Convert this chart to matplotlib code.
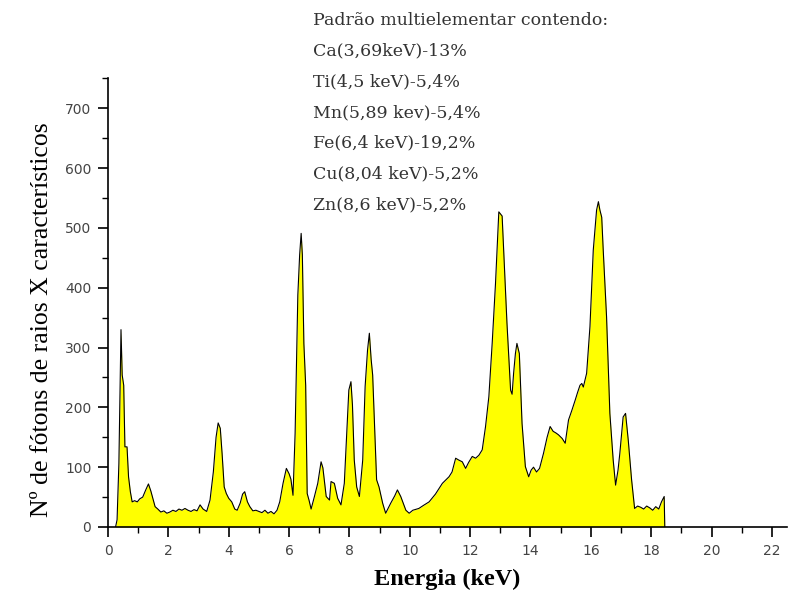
#!/usr/bin/env python3
"""XRF spectrum of a multielement standard (Ca, Ti, Mn, Fe, Cu, Zn)."""

import matplotlib
matplotlib.use("Agg")
import matplotlib.pyplot as plt
from matplotlib.ticker import MultipleLocator

# Spectrum: energy (keV) and counts
energy = [
    0.25, 0.30, 0.36, 0.43, 0.47, 0.52, 0.56, 0.63, 0.68, 0.74,
    0.80, 0.88, 0.97, 1.05, 1.15, 1.25, 1.34, 1.42, 1.50, 1.56,
    1.65, 1.75, 1.85, 1.95, 2.05, 2.15, 2.25, 2.35, 2.45, 2.55,
    2.65, 2.75, 2.85, 2.95, 3.05, 3.15, 3.27, 3.38, 3.49, 3.58,
    3.65, 3.72, 3.78, 3.85, 3.92, 4.00, 4.10, 4.20, 4.28, 4.38,
    4.46, 4.53, 4.62, 4.70, 4.80, 4.90, 5.00, 5.10, 5.20, 5.30,
    5.40, 5.50, 5.60, 5.69, 5.80, 5.91, 6.00, 6.06, 6.13, 6.20,
    6.29, 6.35, 6.40, 6.44, 6.49, 6.55, 6.60, 6.66, 6.73, 6.84,
    6.95, 7.06, 7.12, 7.23, 7.34, 7.39, 7.50, 7.61, 7.72, 7.83,
    7.91, 7.98, 8.05, 8.10, 8.16, 8.24, 8.33, 8.44, 8.52, 8.60,
    8.66, 8.72, 8.77, 8.83, 8.90, 8.98, 9.10, 9.20, 9.37, 9.50,
    9.59, 9.70, 9.87, 9.98, 10.10, 10.30, 10.45, 10.64, 10.85, 11.08,
    11.30, 11.40, 11.52, 11.62, 11.74, 11.85, 11.95, 12.07, 12.18, 12.29,
    12.40, 12.51, 12.62, 12.73, 12.84, 12.95, 13.06, 13.11, 13.22, 13.34,
    13.39, 13.44, 13.50, 13.55, 13.63, 13.72, 13.83, 13.94, 14.02, 14.10,
    14.20, 14.30, 14.43, 14.55, 14.65, 14.75, 14.85, 14.93, 15.05, 15.15,
    15.26, 15.37, 15.48, 15.56, 15.64, 15.70, 15.75, 15.86, 15.97, 16.08,
    16.19, 16.25, 16.30, 16.36, 16.41, 16.52, 16.63, 16.74, 16.82, 16.90,
    16.96, 17.07, 17.15, 17.24, 17.35, 17.45, 17.55, 17.65, 17.75, 17.85,
    17.95, 18.05, 18.15, 18.25, 18.34, 18.43, 18.45,
]
counts = [
    0, 12, 106, 330, 254, 237, 134, 134, 84, 59,
    42, 44, 42, 47, 50, 62, 72, 60, 45, 34,
    30, 25, 27, 23, 25, 28, 26, 30, 28, 31,
    28, 26, 29, 27, 37, 30, 26, 45, 92, 150,
    174, 165, 123, 67, 56, 48, 42, 30, 28, 40,
    55, 59, 42, 34, 27, 28, 26, 24, 28, 23,
    26, 22, 28, 42, 73, 98, 89, 80, 53, 157,
    388, 455, 491, 455, 307, 237, 56, 45, 30, 51,
    73, 109, 99, 51, 45, 76, 73, 48, 37, 73,
    157, 229, 243, 204, 112, 67, 51, 112, 235, 296,
    324, 280, 254, 171, 79, 67, 40, 23, 40, 52,
    62, 51, 28, 23, 28, 31, 36, 42, 55, 73,
    84, 92, 115, 112, 109, 98, 108, 118, 115, 120,
    129, 168, 218, 307, 407, 527, 520, 463, 341, 229,
    222, 257, 290, 307, 290, 173, 101, 84, 95, 100,
    92, 98, 123, 150, 168, 160, 157, 154, 148, 140,
    179, 195, 212, 225, 237, 240, 234, 257, 335, 463,
    530, 544, 530, 518, 463, 352, 190, 112, 70, 95,
    123, 184, 190, 145, 79, 31, 35, 33, 30, 35,
    32, 28, 34, 30, 42, 51, 0,
]

standard_lines = [
    "Padrão multielementar contendo:",
    "Ca(3,69keV)-13%",
    "Ti(4,5 keV)-5,4%",
    "Mn(5,89 kev)-5,4%",
    "Fe(6,4 keV)-19,2%",
    "Cu(8,04 keV)-5,2%",
    "Zn(8,6 keV)-5,2%",
]

fig = plt.figure(figsize=(7.96, 5.96), dpi=100)
ax = fig.add_axes([0.1357, 0.1158, 0.853, 0.7525])

ax.fill_between(energy, counts, 0, color="#ffff00", linewidth=0)
ax.plot(energy, counts, color="black", linewidth=0.8)

ax.set_xlim(0, 22.5)
ax.set_ylim(0, 750)
ax.xaxis.set_major_locator(MultipleLocator(2))
ax.xaxis.set_minor_locator(MultipleLocator(1))
ax.yaxis.set_major_locator(MultipleLocator(100))
ax.yaxis.set_minor_locator(MultipleLocator(50))
ax.tick_params(which="major", direction="out", length=7, width=1.2,
               labelsize=10, pad=5, labelcolor="#444444")
ax.tick_params(which="minor", direction="out", length=4, width=1.0)

ax.spines["top"].set_visible(False)
ax.spines["right"].set_visible(False)
ax.spines["left"].set_linewidth(1.2)
ax.spines["bottom"].set_linewidth(1.2)

ax.set_xlabel("Energia (keV)", family="Liberation Serif", fontsize=17.5,
              fontweight="bold", labelpad=8)
ax.set_ylabel("Nº de fótons de raios X característicos",
              family="Liberation Serif", fontsize=18.5)
ax.yaxis.set_label_coords(-0.081, 0.462)

# Composition of the standard, in the upper part of the figure
for i, line in enumerate(standard_lines):
    fig.text(313 / 796, 1 - (20.5 + i * 30.7) / 596, line,
             family="DejaVu Serif", fontsize=12.5, color="#333333",
             va="center", ha="left")

fig.savefig("out.png", dpi=100)
